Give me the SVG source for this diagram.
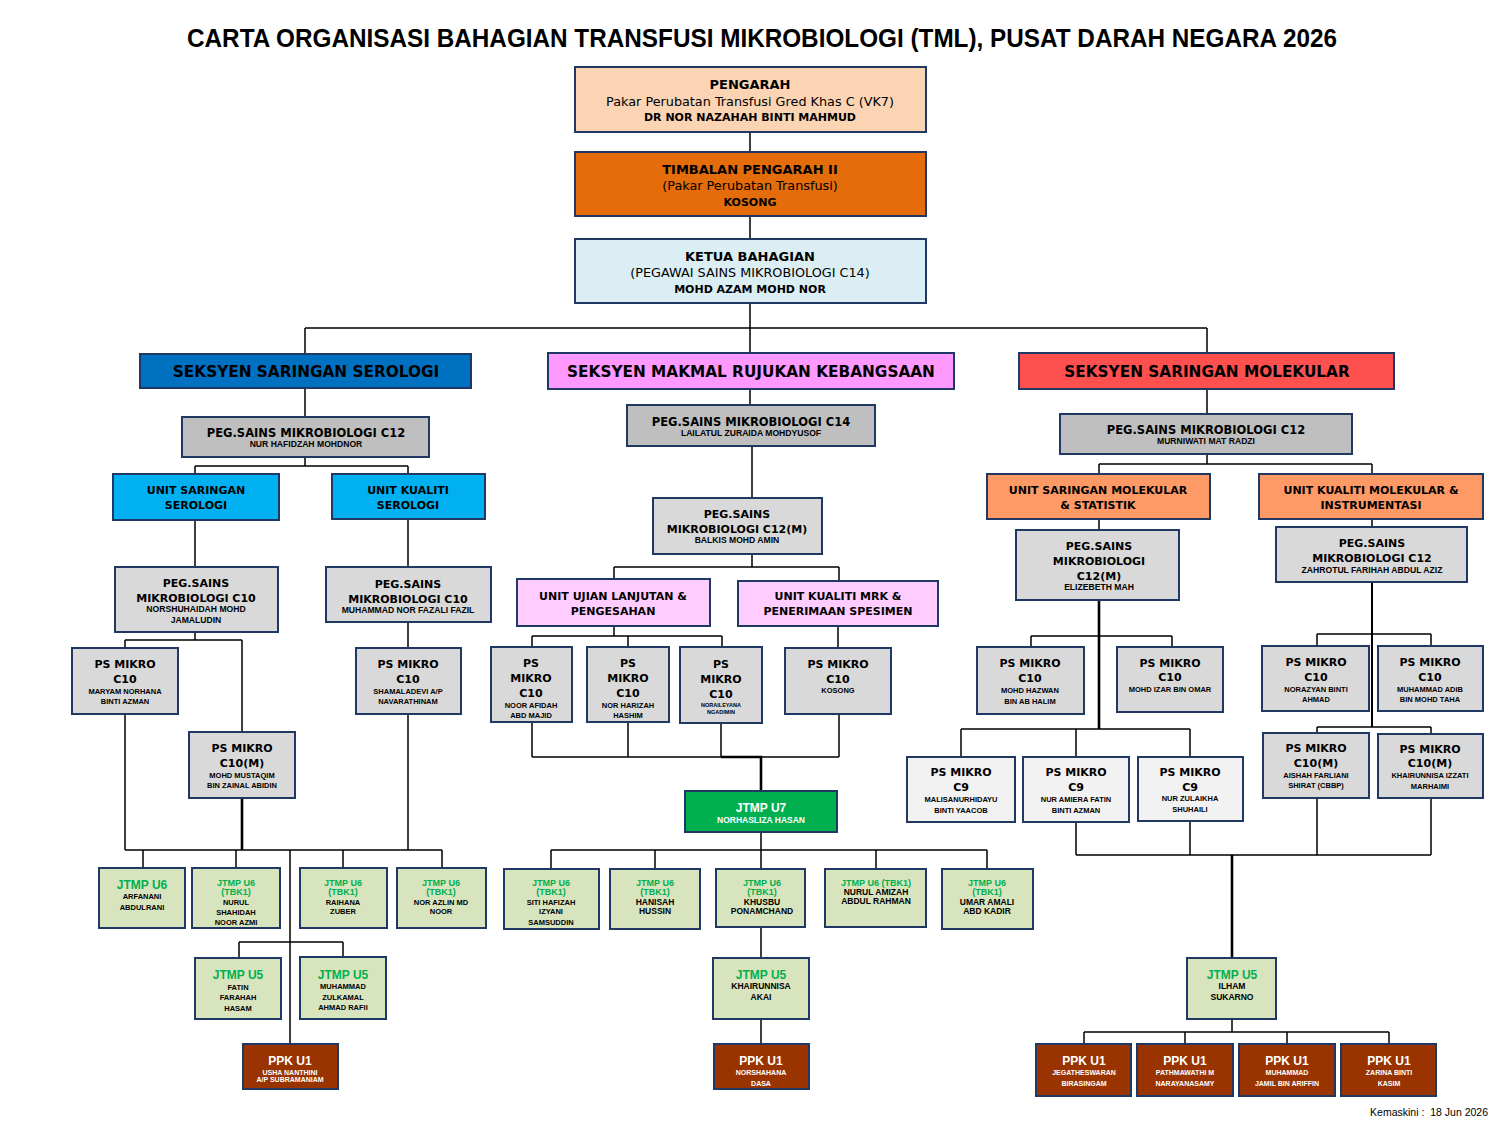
<svg xmlns="http://www.w3.org/2000/svg" width="1500" height="1125" viewBox="0 0 1500 1125">
<style>
text{text-anchor:middle;dominant-baseline:central}
.bx{stroke:#1F3864;stroke-width:2}
.ln{stroke:#000;stroke-width:1.5;fill:none}
.lt{stroke:#000;stroke-width:2.6;fill:none}
.ttl{font-family:"Liberation Sans",Arial,sans-serif;font-weight:bold;font-size:25px;fill:#000}
.hd{font-family:"DejaVu Sans",Verdana,sans-serif;font-weight:bold;fill:#000}
.rg{font-family:"DejaVu Sans",Verdana,sans-serif;fill:#000}
.nm{font-family:"Liberation Sans",Arial,sans-serif;font-weight:bold;font-size:7.5px;fill:#000}
.np{font-family:"Liberation Sans",Arial,sans-serif;font-weight:bold;font-size:8.6px;fill:#000}
.nb{font-family:"Liberation Sans",Arial,sans-serif;font-weight:bold;font-size:8.5px;fill:#000}
.gr{font-family:"Liberation Sans",Arial,sans-serif;font-weight:bold;fill:#00B050}
.wh{font-family:"Liberation Sans",Arial,sans-serif;font-weight:bold;fill:#fff}
.s15{font-size:15.3px}.s11{font-size:11px}.s115{font-size:11.5px}.s13{font-size:13px}.sub{font-size:12.8px}.s12{font-size:12px}.s9{font-size:9px}.s7{font-size:7px}
.g1{fill:#BFBFBF}.g2{fill:#D9D9D9}.g3{fill:#F2F2F2}.lg{fill:#D7E4BD}.br{fill:#993300}
</style>

<text class="ttl" x="762" y="38" textLength="1150" lengthAdjust="spacingAndGlyphs">CARTA ORGANISASI BAHAGIAN TRANSFUSI MIKROBIOLOGI (TML), PUSAT DARAH NEGARA 2026</text>

<g id="connectors">
<path class="ln" d="M750,132V152M750,216V239M750,303V328M305,328H1207M305,328V354M750,328V353M1207,328V353"/>
<path class="ln" d="M305,388V417M305,457V466M195,466H408M195,466V474M408,466V474M195,520V567M408,519V567M195,632V640M125,640H242M125,640V648M242,640V732M408,622V648M125,714V850M408,714V850M125,850H442M143,850V868M236,850V868M343,850V868M442,850V868M290,850V1044M239,942H343M239,942V958M343,942V957"/>
<path class="lt" d="M242,798V850"/>
<path class="ln" d="M750,389V405M752,446V498M752,554V567M614,567H839M614,567V579M839,567V581M614,626V636M532,636H722M532,636V647M628,636V647M722,636V647M838,626V648M532,722V757M628,722V757M721,723V757M839,714V757M532,757H839M761,832V850M551,850H987M551,850V869M655,850V869M761,850V869M876,850V869M987,850V869M761,927V958M761,1019V1044"/>
<path class="lt" d="M721,757H761V791"/>
<path class="ln" d="M1207,389V414M1207,454V464M1099,464H1372M1099,464V474M1372,464V474M1099,519V530M1372,519V527M1031,636H1172M1031,636V647M1172,636V647M961,729H1190M961,729V757M1076,729V757M1190,729V757M1317,634H1431M1317,634V646M1431,634V646M1317,727H1431M1317,727V733M1431,727V734M1076,822V855M1190,821V855M1317,798V855M1431,798V855M1076,855H1431M1232,1019V1032M1084,1032H1389M1084,1032V1044M1185,1032V1044M1287,1032V1044M1389,1032V1044"/>
<path class="lt" d="M1099,600V729M1232,855V958"/>
<path class="ln" style="stroke-width:2" d="M1372,582V727"/>
</g>

<g id="pengarah"><rect class="bx" x="575" y="67" width="351" height="65" fill="#FBD4B4"/>
<text class="hd s13" x="750" y="84">PENGARAH</text>
<text class="rg sub" x="750" y="101">Pakar Perubatan Transfusi Gred Khas C (VK7)</text>
<text class="hd s11" x="750" y="117">DR NOR NAZAHAH BINTI MAHMUD</text></g>

<g id="timbalan"><rect class="bx" x="575" y="152" width="351" height="64" fill="#E46C0A"/>
<text class="hd s13" x="750" y="169">TIMBALAN PENGARAH II</text>
<text class="rg sub" x="750" y="185">(Pakar Perubatan Transfusi)</text>
<text class="hd s11" x="750" y="202">KOSONG</text></g>

<g id="ketua"><rect class="bx" x="575" y="239" width="351" height="64" fill="#DBEEF4"/>
<text class="hd s13" x="750" y="256">KETUA BAHAGIAN</text>
<text class="rg sub" x="750" y="272">(PEGAWAI SAINS MIKROBIOLOGI C14)</text>
<text class="hd s11" x="750" y="289">MOHD AZAM MOHD NOR</text></g>

<g id="sek-serologi"><rect class="bx" x="140" y="354" width="331" height="34" fill="#0070C0"/>
<text class="hd s15" x="306" y="372">SEKSYEN SARINGAN SEROLOGI</text></g>
<g id="sek-makmal"><rect class="bx" x="548" y="353" width="406" height="36" fill="#FF99FF"/>
<text class="hd s15" x="751" y="372">SEKSYEN MAKMAL RUJUKAN KEBANGSAAN</text></g>
<g id="sek-molekular"><rect class="bx" x="1019" y="353" width="375" height="36" fill="#FF5050"/>
<text class="hd s15" x="1207" y="372">SEKSYEN SARINGAN MOLEKULAR</text></g>

<!-- LEFT -->
<g id="l-c12"><rect class="bx g1" x="182" y="417" width="247" height="40"/>
<text class="hd s115" x="306" y="433">PEG.SAINS MIKROBIOLOGI C12</text>
<text class="np" x="306" y="444">NUR HAFIDZAH MOHDNOR</text></g>
<g id="l-unit1"><rect class="bx" x="113" y="474" width="166" height="46" fill="#00B0F0"/>
<text class="hd s11" x="196" y="490">UNIT SARINGAN</text>
<text class="hd s11" x="196" y="505">SEROLOGI</text></g>
<g id="l-unit2"><rect class="bx" x="332" y="474" width="153" height="45" fill="#00B0F0"/>
<text class="hd s11" x="408" y="490">UNIT KUALITI</text>
<text class="hd s11" x="408" y="505">SEROLOGI</text></g>
<g id="l-c10a"><rect class="bx g2" x="115" y="567" width="163" height="65"/>
<text class="hd s11" x="196" y="583">PEG.SAINS</text>
<text class="hd s11" x="196" y="598">MIKROBIOLOGI C10</text>
<text class="np" x="196" y="609">NORSHUHAIDAH MOHD</text>
<text class="np" x="196" y="620">JAMALUDIN</text></g>
<g id="l-c10b"><rect class="bx g2" x="326" y="567" width="165" height="55"/>
<text class="hd s11" x="408" y="584">PEG.SAINS</text>
<text class="hd s11" x="408" y="599">MIKROBIOLOGI C10</text>
<text class="np" x="408" y="610">MUHAMMAD NOR FAZALI FAZIL</text></g>
<g id="l-ps1"><rect class="bx g2" x="72" y="648" width="106" height="66"/>
<text class="hd s11" x="125" y="664">PS MIKRO</text>
<text class="hd s11" x="125" y="679">C10</text>
<text class="nm" x="125" y="691">MARYAM NORHANA</text>
<text class="nm" x="125" y="701">BINTI AZMAN</text></g>
<g id="l-ps2"><rect class="bx g2" x="189" y="732" width="106" height="66"/>
<text class="hd s11" x="242" y="748">PS MIKRO</text>
<text class="hd s11" x="242" y="763">C10(M)</text>
<text class="nm" x="242" y="775">MOHD MUSTAQIM</text>
<text class="nm" x="242" y="785">BIN ZAINAL ABIDIN</text></g>
<g id="l-ps3"><rect class="bx g2" x="356" y="648" width="105" height="66"/>
<text class="hd s11" x="408" y="664">PS MIKRO</text>
<text class="hd s11" x="408" y="679">C10</text>
<text class="nm" x="408" y="691">SHAMALADEVI A/P</text>
<text class="nm" x="408" y="701">NAVARATHINAM</text></g>
<g id="l-u6a"><rect class="bx lg" x="99" y="868" width="86" height="60"/>
<text class="gr s12" x="142" y="885">JTMP U6</text>
<text class="nm" x="142" y="896">ARFANANI</text>
<text class="nm" x="142" y="907">ABDULRANI</text></g>
<g id="l-u6b"><rect class="bx lg" x="192" y="868" width="88" height="60"/>
<text class="gr s9" x="236" y="883">JTMP U6</text>
<text class="gr s9" x="236" y="892">(TBK1)</text>
<text class="nm" x="236" y="902">NURUL</text>
<text class="nm" x="236" y="912">SHAHIDAH</text>
<text class="nm" x="236" y="922">NOOR AZMI</text></g>
<g id="l-u6c"><rect class="bx lg" x="300" y="868" width="87" height="60"/>
<text class="gr s9" x="343" y="883">JTMP U6</text>
<text class="gr s9" x="343" y="892">(TBK1)</text>
<text class="nm" x="343" y="902">RAIHANA</text>
<text class="nm" x="343" y="911">ZUBER</text></g>
<g id="l-u6d"><rect class="bx lg" x="397" y="868" width="89" height="60"/>
<text class="gr s9" x="441" y="883">JTMP U6</text>
<text class="gr s9" x="441" y="892">(TBK1)</text>
<text class="nm" x="441" y="902">NOR AZLIN MD</text>
<text class="nm" x="441" y="911">NOOR</text></g>
<g id="l-u5a"><rect class="bx lg" x="195" y="958" width="86" height="61"/>
<text class="gr s12" x="238" y="975">JTMP U5</text>
<text class="nm" x="238" y="987">FATIN</text>
<text class="nm" x="238" y="997">FARAHAH</text>
<text class="nm" x="238" y="1008">HASAM</text></g>
<g id="l-u5b"><rect class="bx lg" x="300" y="957" width="86" height="62"/>
<text class="gr s12" x="343" y="975">JTMP U5</text>
<text class="nm" x="343" y="986">MUHAMMAD</text>
<text class="nm" x="343" y="997">ZULKAMAL</text>
<text class="nm" x="343" y="1007">AHMAD RAFII</text></g>
<g id="l-ppk"><rect class="bx br" x="243" y="1044" width="95" height="45"/>
<text class="wh s12" x="290" y="1061">PPK U1</text>
<text class="wh s7" x="290" y="1072">USHA NANTHINI</text>
<text class="wh s7" x="290" y="1079">A/P SUBRAMANIAM</text></g>

<!-- MIDDLE -->
<g id="m-c14"><rect class="bx g1" x="627" y="405" width="248" height="41"/>
<text class="hd s115" x="751" y="422">PEG.SAINS MIKROBIOLOGI C14</text>
<text class="np" x="751" y="433">LAILATUL ZURAIDA MOHDYUSOF</text></g>
<g id="m-c12"><rect class="bx g2" x="653" y="498" width="169" height="56"/>
<text class="hd s11" x="737" y="514">PEG.SAINS</text>
<text class="hd s11" x="737" y="529">MIKROBIOLOGI C12(M)</text>
<text class="np" x="737" y="540">BALKIS MOHD AMIN</text></g>
<g id="m-unit1"><rect class="bx" x="517" y="579" width="193" height="47" fill="#FFCCFF"/>
<text class="hd s11" x="613" y="596">UNIT UJIAN LANJUTAN &amp;</text>
<text class="hd s11" x="613" y="611">PENGESAHAN</text></g>
<g id="m-unit2"><rect class="bx" x="738" y="581" width="200" height="45" fill="#FFCCFF"/>
<text class="hd s11" x="838" y="596">UNIT KUALITI MRK &amp;</text>
<text class="hd s11" x="838" y="611">PENERIMAAN SPESIMEN</text></g>
<g id="m-ps1"><rect class="bx g2" x="491" y="647" width="81" height="75"/>
<text class="hd s11" x="531" y="663">PS</text>
<text class="hd s11" x="531" y="678">MIKRO</text>
<text class="hd s11" x="531" y="693">C10</text>
<text class="nm" x="531" y="705">NOOR AFIDAH</text>
<text class="nm" x="531" y="715">ABD MAJID</text></g>
<g id="m-ps2"><rect class="bx g2" x="587" y="647" width="82" height="75"/>
<text class="hd s11" x="628" y="663">PS</text>
<text class="hd s11" x="628" y="678">MIKRO</text>
<text class="hd s11" x="628" y="693">C10</text>
<text class="nm" x="628" y="705">NOR HARIZAH</text>
<text class="nm" x="628" y="715">HASHIM</text></g>
<g id="m-ps3"><rect class="bx g2" x="680" y="647" width="82" height="76"/>
<text class="hd s11" x="721" y="664">PS</text>
<text class="hd s11" x="721" y="679">MIKRO</text>
<text class="hd s11" x="721" y="694">C10</text>
<text class="nm" style="font-size:5.5px" x="721" y="705">NORAILEYANA</text>
<text class="nm" style="font-size:5.5px" x="721" y="712">NGADIMIN</text></g>
<g id="m-ps4"><rect class="bx g2" x="785" y="648" width="106" height="66"/>
<text class="hd s11" x="838" y="664">PS MIKRO</text>
<text class="hd s11" x="838" y="679">C10</text>
<text class="nm" x="838" y="690">KOSONG</text></g>
<g id="m-u7"><rect class="bx" x="685" y="791" width="152" height="41" fill="#00B050"/>
<text class="wh s12" x="761" y="808">JTMP U7</text>
<text class="wh" style="font-size:8.5px" x="761" y="820">NORHASLIZA HASAN</text></g>
<g id="m-u6a"><rect class="bx lg" x="504" y="869" width="95" height="60"/>
<text class="gr s9" x="551" y="883">JTMP U6</text>
<text class="gr s9" x="551" y="892">(TBK1)</text>
<text class="nm" x="551" y="902">SITI HAFIZAH</text>
<text class="nm" x="551" y="911">IZYANI</text>
<text class="nm" x="551" y="922">SAMSUDDIN</text></g>
<g id="m-u6b"><rect class="bx lg" x="610" y="869" width="90" height="60"/>
<text class="gr s9" x="655" y="883">JTMP U6</text>
<text class="gr s9" x="655" y="892">(TBK1)</text>
<text class="nb" x="655" y="902">HANISAH</text>
<text class="nb" x="655" y="911">HUSSIN</text></g>
<g id="m-u6c"><rect class="bx lg" x="716" y="869" width="89" height="58"/>
<text class="gr s9" x="762" y="883">JTMP U6</text>
<text class="gr s9" x="762" y="892">(TBK1)</text>
<text class="nb" x="762" y="902">KHUSBU</text>
<text class="nb" x="762" y="911">PONAMCHAND</text></g>
<g id="m-u6d"><rect class="bx lg" x="825" y="869" width="101" height="58"/>
<text class="gr s9" x="876" y="883">JTMP U6 (TBK1)</text>
<text class="nb" x="876" y="892">NURUL AMIZAH</text>
<text class="nb" x="876" y="901">ABDUL RAHMAN</text></g>
<g id="m-u6e"><rect class="bx lg" x="942" y="869" width="91" height="60"/>
<text class="gr s9" x="987" y="883">JTMP U6</text>
<text class="gr s9" x="987" y="892">(TBK1)</text>
<text class="nb" x="987" y="902">UMAR AMALI</text>
<text class="nb" x="987" y="911">ABD KADIR</text></g>
<g id="m-u5"><rect class="bx lg" x="713" y="958" width="96" height="61"/>
<text class="gr s12" x="761" y="975">JTMP U5</text>
<text class="nb" x="761" y="986">KHAIRUNNISA</text>
<text class="nb" x="761" y="997">AKAI</text></g>
<g id="m-ppk"><rect class="bx br" x="714" y="1044" width="95" height="45"/>
<text class="wh s12" x="761" y="1061">PPK U1</text>
<text class="wh s7" x="761" y="1072">NORSHAHANA</text>
<text class="wh s7" x="761" y="1083">DASA</text></g>

<!-- RIGHT -->
<g id="r-c12"><rect class="bx g1" x="1060" y="414" width="292" height="40"/>
<text class="hd s115" x="1206" y="430">PEG.SAINS MIKROBIOLOGI C12</text>
<text class="np" x="1206" y="441">MURNIWATI MAT RADZI</text></g>
<g id="r-unit1"><rect class="bx" x="987" y="474" width="223" height="45" fill="#FF9966"/>
<text class="hd s11" x="1098" y="490">UNIT SARINGAN MOLEKULAR</text>
<text class="hd s11" x="1098" y="505">&amp; STATISTIK</text></g>
<g id="r-unit2"><rect class="bx" x="1259" y="474" width="224" height="45" fill="#FF9966"/>
<text class="hd s11" x="1371" y="490">UNIT KUALITI MOLEKULAR &amp;</text>
<text class="hd s11" x="1371" y="505">INSTRUMENTASI</text></g>
<g id="r-c12m"><rect class="bx g2" x="1016" y="530" width="163" height="70"/>
<text class="hd s11" x="1099" y="546">PEG.SAINS</text>
<text class="hd s11" x="1099" y="561">MIKROBIOLOGI</text>
<text class="hd s11" x="1099" y="576">C12(M)</text>
<text class="np" x="1099" y="587">ELIZEBETH MAH</text></g>
<g id="r-c12b"><rect class="bx g2" x="1276" y="527" width="191" height="55"/>
<text class="hd s11" x="1372" y="543">PEG.SAINS</text>
<text class="hd s11" x="1372" y="558">MIKROBIOLOGI C12</text>
<text class="np" x="1372" y="570">ZAHROTUL FARIHAH ABDUL AZIZ</text></g>
<g id="r-ps1"><rect class="bx g2" x="977" y="647" width="107" height="67"/>
<text class="hd s11" x="1030" y="663">PS MIKRO</text>
<text class="hd s11" x="1030" y="678">C10</text>
<text class="nm" x="1030" y="690">MOHD HAZWAN</text>
<text class="nm" x="1030" y="701">BIN AB HALIM</text></g>
<g id="r-ps2"><rect class="bx g2" x="1117" y="647" width="106" height="65"/>
<text class="hd s11" x="1170" y="663">PS MIKRO</text>
<text class="hd s11" x="1170" y="677">C10</text>
<text class="nm" x="1170" y="689">MOHD IZAR BIN OMAR</text></g>
<g id="r-c9a"><rect class="bx g3" x="907" y="757" width="108" height="65"/>
<text class="hd s11" x="961" y="772">PS MIKRO</text>
<text class="hd s11" x="961" y="787">C9</text>
<text class="nm" x="961" y="799">MALISANURHIDAYU</text>
<text class="nm" x="961" y="810">BINTI YAACOB</text></g>
<g id="r-c9b"><rect class="bx g3" x="1023" y="757" width="106" height="65"/>
<text class="hd s11" x="1076" y="772">PS MIKRO</text>
<text class="hd s11" x="1076" y="787">C9</text>
<text class="nm" x="1076" y="799">NUR AMIERA FATIN</text>
<text class="nm" x="1076" y="810">BINTI AZMAN</text></g>
<g id="r-c9c"><rect class="bx g3" x="1138" y="757" width="105" height="64"/>
<text class="hd s11" x="1190" y="772">PS MIKRO</text>
<text class="hd s11" x="1190" y="787">C9</text>
<text class="nm" x="1190" y="798">NUR ZULAIKHA</text>
<text class="nm" x="1190" y="809">SHUHAILI</text></g>
<g id="r-ps3"><rect class="bx g2" x="1262" y="646" width="107" height="65"/>
<text class="hd s11" x="1316" y="662">PS MIKRO</text>
<text class="hd s11" x="1316" y="677">C10</text>
<text class="nm" x="1316" y="689">NORAZYAN BINTI</text>
<text class="nm" x="1316" y="699">AHMAD</text></g>
<g id="r-ps4"><rect class="bx g2" x="1378" y="646" width="105" height="65"/>
<text class="hd s11" x="1430" y="662">PS MIKRO</text>
<text class="hd s11" x="1430" y="677">C10</text>
<text class="nm" x="1430" y="689">MUHAMMAD ADIB</text>
<text class="nm" x="1430" y="699">BIN MOHD TAHA</text></g>
<g id="r-ps5"><rect class="bx g2" x="1263" y="733" width="106" height="65"/>
<text class="hd s11" x="1316" y="748">PS MIKRO</text>
<text class="hd s11" x="1316" y="763">C10(M)</text>
<text class="nm" x="1316" y="775">AISHAH FARLIANI</text>
<text class="nm" x="1316" y="785">SHIRAT (CBBP)</text></g>
<g id="r-ps6"><rect class="bx g2" x="1378" y="734" width="105" height="64"/>
<text class="hd s11" x="1430" y="749">PS MIKRO</text>
<text class="hd s11" x="1430" y="763">C10(M)</text>
<text class="nm" x="1430" y="775">KHAIRUNNISA IZZATI</text>
<text class="nm" x="1430" y="786">MARHAIMI</text></g>
<g id="r-u5"><rect class="bx lg" x="1187" y="958" width="89" height="61"/>
<text class="gr s12" x="1232" y="975">JTMP U5</text>
<text class="nb" x="1232" y="986">ILHAM</text>
<text class="nb" x="1232" y="997">SUKARNO</text></g>
<g id="r-ppk1"><rect class="bx br" x="1036" y="1044" width="95" height="52"/>
<text class="wh s12" x="1084" y="1061">PPK U1</text>
<text class="wh s7" x="1084" y="1072">JEGATHESWARAN</text>
<text class="wh s7" x="1084" y="1083">BIRASINGAM</text></g>
<g id="r-ppk2"><rect class="bx br" x="1137" y="1044" width="96" height="52"/>
<text class="wh s12" x="1185" y="1061">PPK U1</text>
<text class="wh s7" x="1185" y="1072">PATHMAWATHI M</text>
<text class="wh s7" x="1185" y="1083">NARAYANASAMY</text></g>
<g id="r-ppk3"><rect class="bx br" x="1239" y="1044" width="96" height="52"/>
<text class="wh s12" x="1287" y="1061">PPK U1</text>
<text class="wh s7" x="1287" y="1072">MUHAMMAD</text>
<text class="wh s7" x="1287" y="1083">JAMIL BIN ARIFFIN</text></g>
<g id="r-ppk4"><rect class="bx br" x="1341" y="1044" width="95" height="52"/>
<text class="wh s12" x="1389" y="1061">PPK U1</text>
<text class="wh s7" x="1389" y="1072">ZARINA BINTI</text>
<text class="wh s7" x="1389" y="1083">KASIM</text></g>

<text style="font-family:'Liberation Sans',Arial,sans-serif;font-size:10.5px;fill:#000;text-anchor:end;white-space:pre" x="1488" y="1112">Kemaskini :  18 Jun 2026</text>
</svg>
